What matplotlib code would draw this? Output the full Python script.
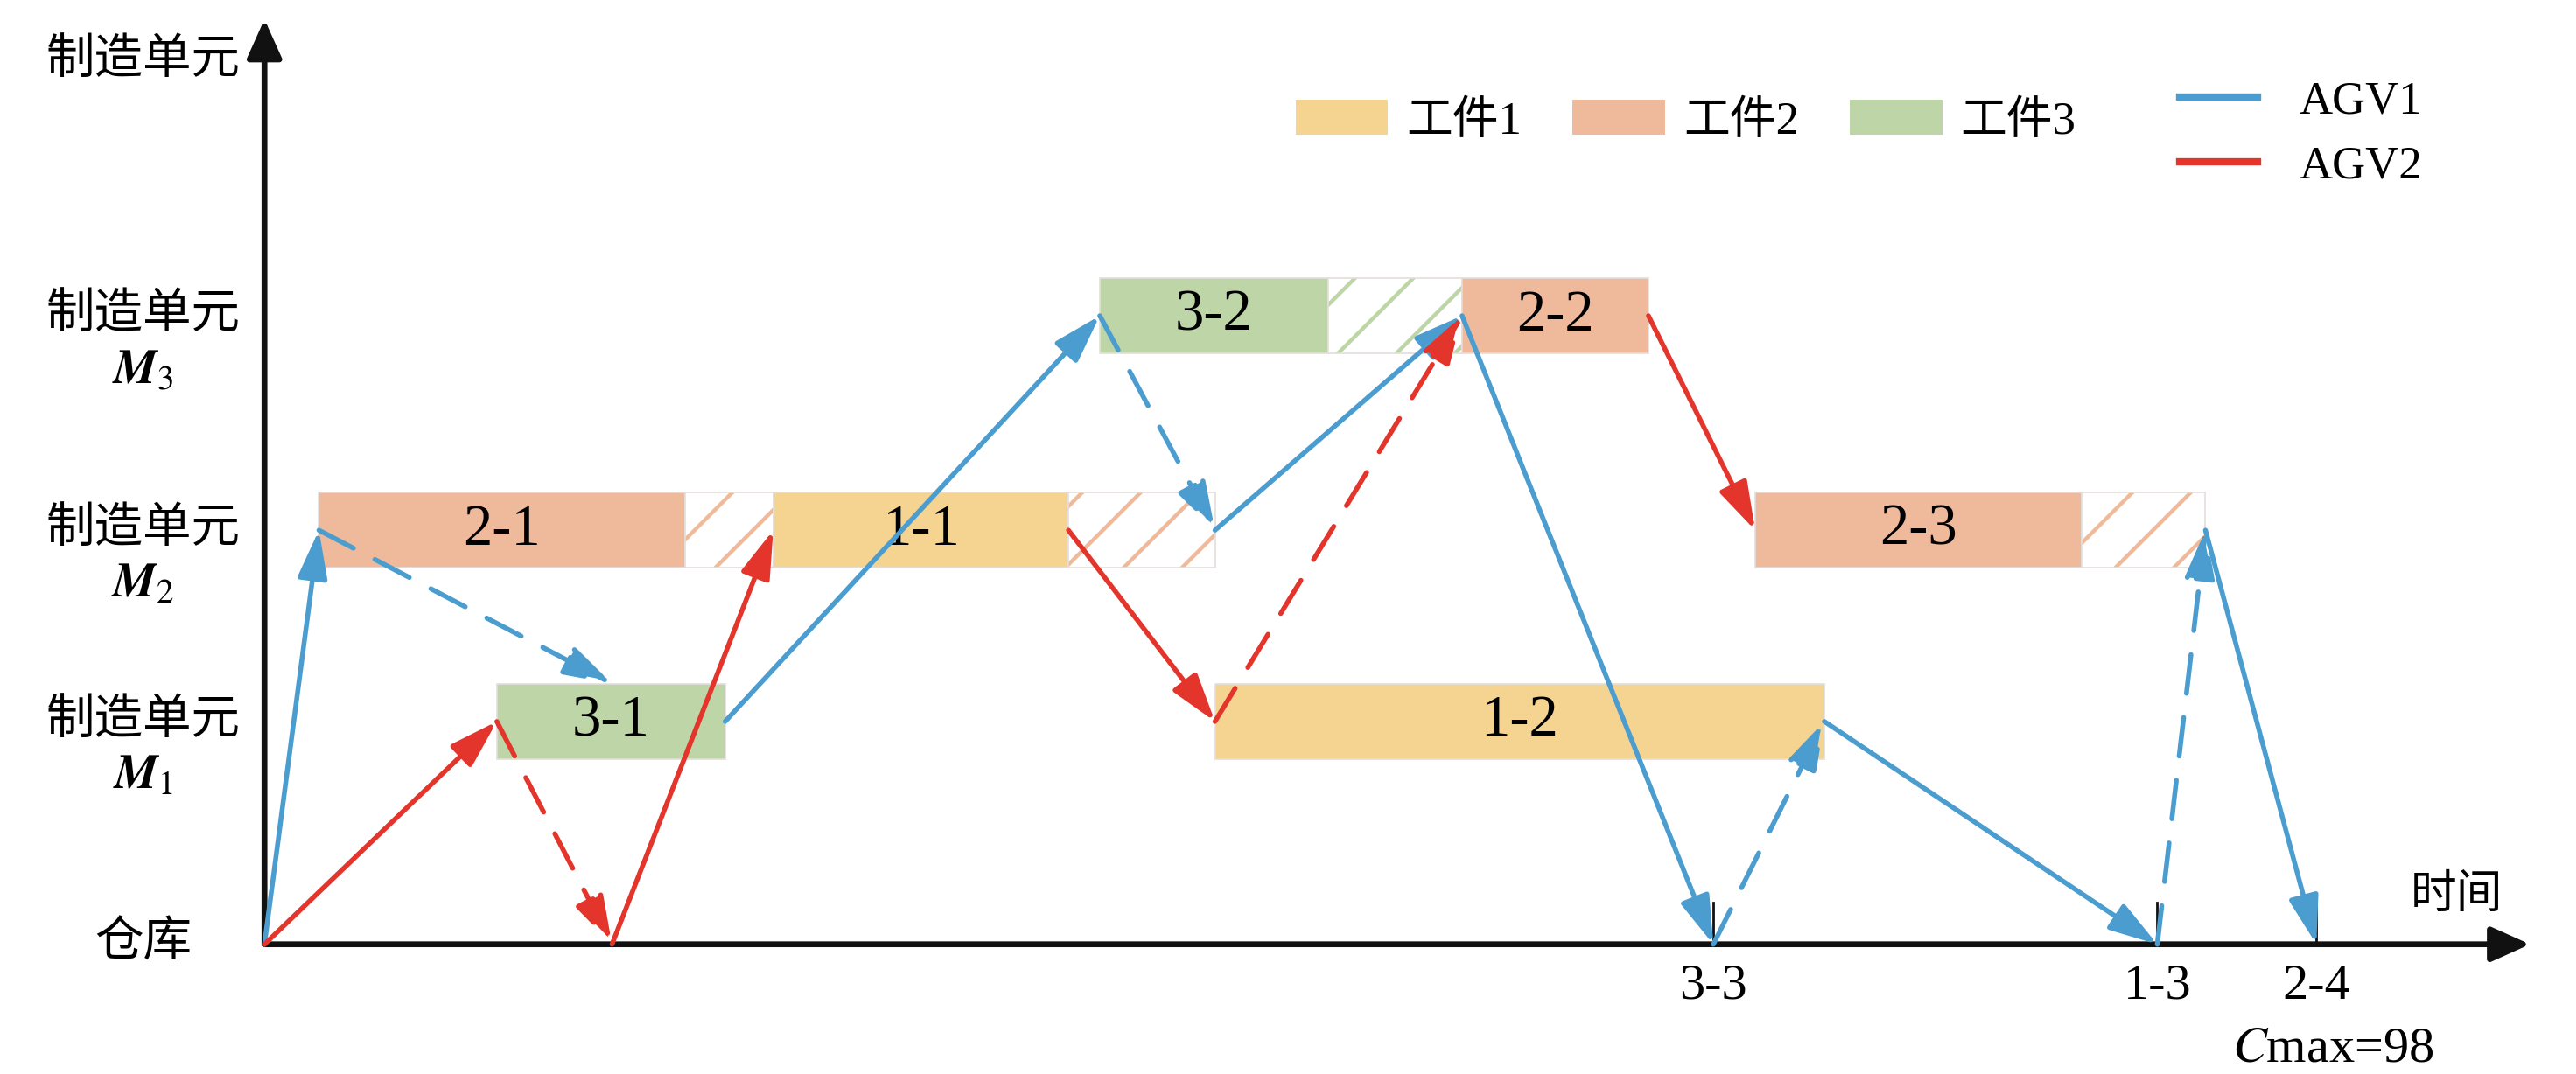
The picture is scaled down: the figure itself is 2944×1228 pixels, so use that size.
import matplotlib.pyplot as plt
from matplotlib.patches import Patch
from matplotlib.lines import Line2D

plt.rcParams['font.family'] = ['Liberation Serif', 'Noto Sans CJK SC']
plt.rcParams['mathtext.fontset'] = 'stix'
plt.rcParams['hatch.linewidth'] = 1.6

# machine levels on the vertical axis (warehouse = 0)
level_y = [0.0, 1.06, 1.97, 2.99]
level_sub = ['', '1', '2', '3']

job_names = ['工件1', '工件2', '工件3']
job_colors = ['#f5d491', '#efba9c', '#bdd5a7']

# operations: label, job, machine, start, end of processing, end of blocking
op_labels = ['2-1', '3-1', '1-1', '3-2', '1-2', '2-2', '2-3']
op_job = [2, 3, 1, 3, 1, 2, 2]
op_machine = [2, 1, 2, 3, 1, 3, 2]
op_start = [2.6, 11.1, 24.3, 39.9, 45.4, 57.2, 71.2]
op_end = [20.1, 22.0, 38.4, 50.8, 74.5, 66.1, 86.8]
block_end = [24.3, 22.0, 45.4, 57.2, 74.5, 66.1, 92.7]
block_job = [2, 3, 2, 3, 1, 2, 2]

# AGV moves (solid = loaded, dashed = empty)
agv1_t0 = [0, 2.6, 22.0, 39.9, 45.4, 57.2, 69.2, 74.5, 90.4, 92.7]
agv1_t1 = [2.6, 16.6, 39.9, 45.4, 57.2, 69.2, 74.5, 90.4, 92.7, 98.0]
agv1_y0 = [0, 1.97, 1.06, 2.99, 1.97, 2.99, 0, 1.06, 0, 1.97]
agv1_y1 = [1.97, 1.24, 2.99, 1.97, 2.99, 0, 1.06, 0, 1.97, 0]
agv1_dash = [0, 1, 0, 1, 0, 0, 1, 0, 1, 0]

agv2_t0 = [0, 11.1, 16.6, 38.4, 45.4, 66.1]
agv2_t1 = [11.1, 16.6, 24.3, 45.4, 57.2, 71.2]
agv2_y0 = [0, 1.06, 0, 1.97, 1.06, 2.99]
agv2_y1 = [1.06, 0, 1.97, 1.06, 2.99, 1.97]
agv2_dash = [0, 1, 0, 0, 1, 0]

agv_colors = ['#4b9dd0', '#e3352b']

# finished jobs back at the warehouse
finish_labels = ['3-3', '1-3', '2-4']
finish_t = [69.2, 90.4, 98.0]
cmax = 98

fig = plt.figure(figsize=(14.72, 6.14), dpi=200)
ax = fig.add_axes([0, 0, 1, 1])
ax.set_xlim(-12.63, 110.4)
ax.set_ylim(-0.617, 4.492)
ax.axis('off')

bar_h = 0.36
for i in range(len(op_labels)):
    y = level_y[op_machine[i]]
    ax.barh(y, op_end[i] - op_start[i], left=op_start[i], height=bar_h,
            color=job_colors[op_job[i] - 1], edgecolor='#e4dedb', linewidth=0.6, zorder=1)
    if block_end[i] > op_end[i]:
        ax.barh(y, block_end[i] - op_end[i], left=op_end[i], height=bar_h,
                color='white', edgecolor=job_colors[block_job[i] - 1], hatch='/',
                linewidth=0, zorder=1)
        ax.barh(y, block_end[i] - op_end[i], left=op_end[i], height=bar_h,
                fill=False, edgecolor='#e4dedb', linewidth=0.6, zorder=1)
    ax.text((op_start[i] + op_end[i]) / 2, y, op_labels[i], ha='center', va='center',
            fontsize=24, zorder=2)

# axes with arrowheads
axis_style = dict(arrowstyle='-|>,head_length=0.4,head_width=0.18', color='#111111',
                  lw=2.4, shrinkA=0, shrinkB=0, mutation_scale=34)
ax.annotate('', xy=(108.2, 0), xytext=(0, 0), arrowprops=axis_style, zorder=3)
ax.annotate('', xy=(0, 4.40), xytext=(0, 0), arrowprops=axis_style, zorder=3)


def draw_moves(t0, t1, y0, y1, dash, color):
    for a, b, c, d, dsh in zip(t0, t1, y0, y1, dash):
        ls = (0, (8, 5)) if dsh else '-'
        ax.annotate('', xy=(b, d), xytext=(a, c),
                    arrowprops=dict(arrowstyle='-|>,head_length=0.42,head_width=0.13',
                                    color=color, lw=2.0, linestyle=ls,
                                    shrinkA=0, shrinkB=0, mutation_scale=40), zorder=4)


draw_moves(agv1_t0, agv1_t1, agv1_y0, agv1_y1, agv1_dash, agv_colors[0])
draw_moves(agv2_t0, agv2_t1, agv2_y0, agv2_y1, agv2_dash, agv_colors[1])

# finish ticks and labels
for lab, t in zip(finish_labels, finish_t):
    ax.plot([t, t], [0, 0.2], color='#111111', lw=1.0, zorder=3)
    ax.text(t, -0.2, lab, ha='center', va='center', fontsize=21)
ax.text(98.8, -0.5, '$\\mathit{C}$max=%d' % cmax, ha='center', va='center', fontsize=21)
ax.text(104.7, 0.23, '时间', ha='center', va='center', fontsize=19)

# vertical axis labels
ax.text(-5.8, 4.2, '制造单元', ha='center', va='center', fontsize=20)
ax.text(-5.8, 0, '仓库', ha='center', va='center', fontsize=20)
for k in range(1, 4):
    ax.text(-5.8, level_y[k], '制造单元', ha='center', va='center', fontsize=20)
    ax.text(-5.8, level_y[k] - 0.26, '$\\boldsymbol{M}_{%s}$' % level_sub[k],
            ha='center', va='center', fontsize=20)

# legends
job_handles = [Patch(facecolor=c, edgecolor='none') for c in job_colors]
fig.legend(job_handles, job_names, loc='center left', bbox_to_anchor=(0.503, 0.887),
           ncol=3, frameon=False, fontsize=19, handlelength=2.0, handleheight=0.8,
           handletextpad=0.4, columnspacing=1.1, borderpad=0, borderaxespad=0)
agv_handles = [Line2D([0], [0], color=c, lw=3.0) for c in agv_colors]
fig.legend(agv_handles, ['AGV1', 'AGV2'], loc='center left',
           bbox_to_anchor=(0.846, 0.875), frameon=False, fontsize=19,
           handlelength=1.7, handletextpad=0.9, labelspacing=0.5,
           borderpad=0, borderaxespad=0)

fig.savefig('out.png', dpi=200)
